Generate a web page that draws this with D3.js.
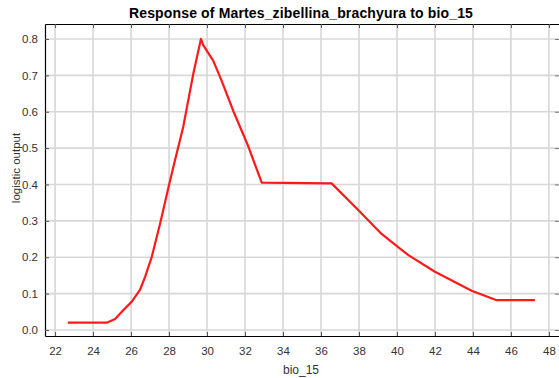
<!DOCTYPE html>
<html>
<head>
<meta charset="utf-8">
<script src="https://cdn.jsdelivr.net/npm/d3@7"></script>
<style>
  body { margin: 0; background: #fff; }
  svg { display: block; font-family: "Liberation Sans", Arial, sans-serif; }
  .tick text { fill: #333; font-size: 11.5px; }
</style>
</head>
<body>
<svg width="559" height="378"></svg>
<script>
var bio15 = [22.67, 24.72, 25.16, 25.6, 26.04, 26.47, 26.74, 27.09, 27.53, 27.96, 28.23, 28.75, 29.28, 29.68,
    29.8, 30.33, 30.74, 31.4, 32.17, 32.88, 36.56, 37.96, 39.19, 39.98, 40.6, 42.0, 43.93, 45.25, 47.26];
var logistic = [0.02, 0.02, 0.03, 0.055, 0.078, 0.11, 0.146, 0.201, 0.293, 0.39, 0.449, 0.559, 0.705, 0.80,
    0.783, 0.74, 0.689, 0.60, 0.505, 0.405, 0.403, 0.33, 0.264, 0.231, 0.206, 0.16, 0.108, 0.082, 0.082];
var xTicks = [22, 24, 26, 28, 30, 32, 34, 36, 38, 40, 42, 44, 46, 48];
var yTicks = [0, 0.1, 0.2, 0.3, 0.4, 0.5, 0.6, 0.7, 0.8];

var svg = d3.select("svg"),
    mLeft = 45, mTop = 24, mRight = 559, mBottom = 336;

var x = d3.scaleLinear().domain([21.47, 48.53]).range([mLeft, mRight]);
var y = d3.scaleLinear().domain([-0.0165, 0.8412]).range([mBottom, mTop]);

// grid
svg.append("g")
    .selectAll("line")
    .data(xTicks)
    .enter().append("line")
    .attr("x1", function (d) { return x(d); })
    .attr("x2", function (d) { return x(d); })
    .attr("y1", mTop)
    .attr("y2", mBottom)
    .attr("stroke", "#cdcdcd")
    .attr("stroke-width", 1.3);

svg.append("g")
    .selectAll("line")
    .data(yTicks)
    .enter().append("line")
    .attr("x1", mLeft)
    .attr("x2", mRight)
    .attr("y1", function (d) { return y(d); })
    .attr("y2", function (d) { return y(d); })
    .attr("stroke", "#d8d8d8")
    .attr("stroke-width", 1.6);

// axes
var xAxis = svg.append("g")
    .attr("transform", "translate(0," + mBottom + ")")
    .call(d3.axisBottom(x).tickValues(xTicks).tickSizeInner(-4).tickSizeOuter(0).tickPadding(11));
xAxis.select(".domain").attr("stroke", "#000").attr("stroke-width", 1.2);
xAxis.selectAll(".tick line").attr("stroke", "#555");

var xTop = svg.append("g")
    .attr("transform", "translate(0," + mTop + ")")
    .call(d3.axisTop(x).tickValues(xTicks).tickSizeInner(-4).tickSizeOuter(0).tickFormat(""));
xTop.select(".domain").attr("stroke", "#000").attr("stroke-width", 1.2);
xTop.selectAll(".tick line").attr("stroke", "#555");

var yAxis = svg.append("g")
    .attr("transform", "translate(" + mLeft + ",0)")
    .call(d3.axisLeft(y).tickValues(yTicks).tickFormat(d3.format(".1f")).tickSizeInner(-4).tickSizeOuter(0).tickPadding(7));
yAxis.select(".domain").attr("stroke", "#000").attr("stroke-width", 1.2);
yAxis.selectAll(".tick line").attr("stroke", "#555");

var yRight = svg.append("g")
    .attr("transform", "translate(" + (mRight - 4) + ",0)")
    .call(d3.axisRight(y).tickValues(yTicks).tickSize(4).tickFormat(""));
yRight.select(".domain").remove();
yRight.selectAll(".tick line").attr("stroke", "#777");

// curve
var line = d3.line()
    .x(function (d, i) { return x(bio15[i]); })
    .y(function (d) { return y(d); });

svg.append("path")
    .datum(logistic)
    .attr("d", line)
    .attr("fill", "none")
    .attr("stroke", "#ff1a1a")
    .attr("stroke-width", 2.2)
    .attr("stroke-linejoin", "round");

// labels
svg.append("text")
    .attr("x", 301)
    .attr("y", 18)
    .attr("text-anchor", "middle")
    .attr("font-size", "14px")
    .attr("font-weight", "bold")
    .attr("letter-spacing", "0.15px")
    .text("Response of Martes_zibellina_brachyura to bio_15");

svg.append("text")
    .attr("x", 301)
    .attr("y", 374)
    .attr("text-anchor", "middle")
    .attr("font-size", "12px")
    .attr("fill", "#333")
    .text("bio_15");

svg.append("text")
    .attr("transform", "translate(20,168) rotate(-90)")
    .attr("text-anchor", "middle")
    .attr("font-size", "11.5px")
    .attr("fill", "#333")
    .text("logistic output");
</script>
</body>
</html>
